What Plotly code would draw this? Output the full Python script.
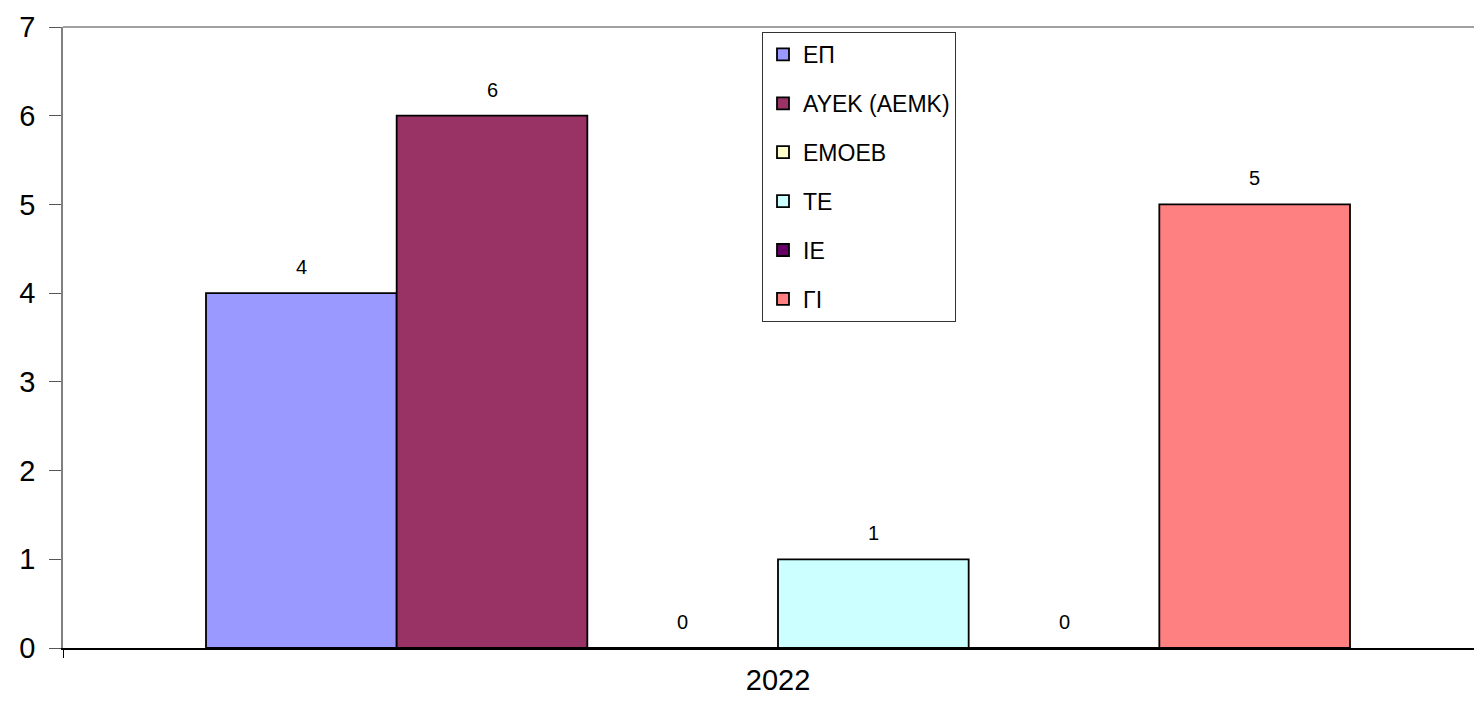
import plotly.graph_objects as go

categories = ["2022"]
series_names = ["ΕΠ", "ΑΥΕΚ (ΑΕΜΚ)", "ΕΜΟΕΒ", "ΤΕ", "ΙΕ", "ΓΙ"]
series_values = [4, 6, 0, 1, 0, 5]
series_colors = ["#9999FF", "#993366", "#FFFFCC", "#CCFFFF", "#660066", "#FF8080"]
y_ticks = [0, 1, 2, 3, 4, 5, 6, 7]

FONT = "Liberation Sans, Arial, sans-serif"
n = len(series_names)
group_width = 0.8
bar_w = group_width / n

fig = go.Figure()
annotations = []
for i, (name, val, col) in enumerate(zip(series_names, series_values, series_colors)):
    off = -group_width / 2 + i * bar_w
    fig.add_trace(go.Bar(
        x=[0], y=[val], name=name,
        width=bar_w, offset=off,
        marker=dict(color=col, line=dict(color="#000000", width=1.8)),
        cliponaxis=False, legendgroup=name,
    ))
    annotations.append(dict(
        x=off + bar_w / 2, y=val, xref="x", yref="y",
        text=str(val), showarrow=False, yanchor="bottom", yshift=13,
        font=dict(family=FONT, size=20, color="#000000"),
    ))

fig.update_layout(
    width=1474, height=687,
    margin=dict(l=55, r=0, t=19, b=47),
    paper_bgcolor="white", plot_bgcolor="white",
    font=dict(family=FONT, color="#000000"),
    barmode="overlay",
    showlegend=True,
    legend=dict(
        x=0.4926, y=0.992, xanchor="left", yanchor="top",
        bgcolor="white", bordercolor="#333333", borderwidth=1,
        font=dict(family=FONT, size=23, color="#000000"),
        traceorder="grouped", tracegroupgap=16,
        itemwidth=30, entrywidth=215, entrywidthmode="pixels",
    ),
    xaxis=dict(
        range=[-0.5, -0.5 + 1419 / 1430],
        tickvals=[0], ticktext=categories,
        ticks="", showgrid=False, zeroline=False,
        showline=True, linecolor="#000000", linewidth=1.5,
        tickfont=dict(family=FONT, size=29, color="#000000"),
        ticklabelstandoff=5, automargin=False,
        minor=dict(tickvals=[-0.5], ticks="outside", ticklen=8, tickcolor="#000000", tickwidth=1),
        fixedrange=True,
    ),
    yaxis=dict(
        range=[0, 7], tickvals=y_ticks,
        ticks="outside", ticklen=12, tickcolor="#555555", tickwidth=1,
        showgrid=False, zeroline=False,
        showline=True, linecolor="#808080", linewidth=1.8,
        tickfont=dict(family=FONT, size=29, color="#000000"),
        ticklabelstandoff=8, automargin=False,
    ),
    annotations=annotations,
    shapes=[dict(type="line", xref="paper", yref="paper", x0=0, x1=1, y0=1, y1=1,
                 line=dict(color="#808080", width=1.5))],
)

fig.write_html("out.html")
